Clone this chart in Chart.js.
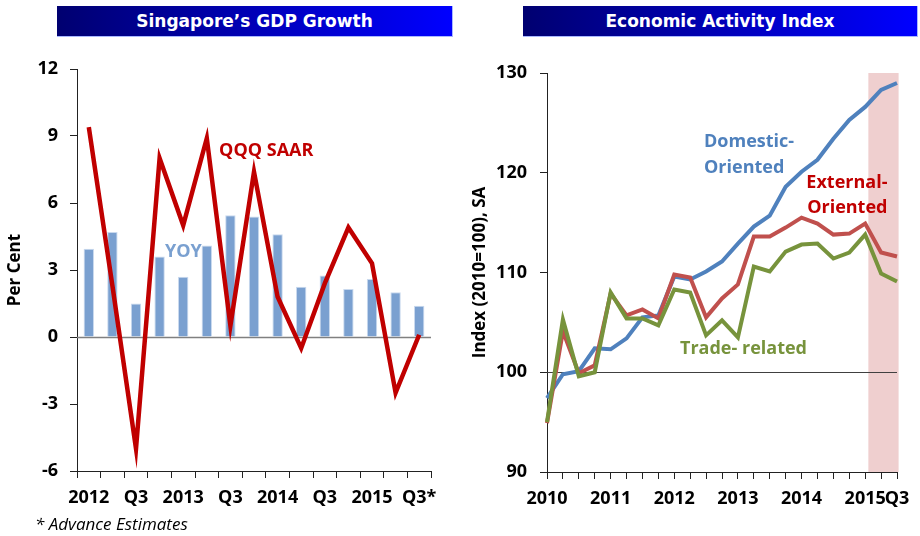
<!DOCTYPE html>
<html>
<head>
<meta charset="utf-8">
<script src="https://cdn.jsdelivr.net/npm/chart.js@4.4.1/dist/chart.umd.min.js"></script>
<style>
  body { margin: 0; width: 920px; height: 536px; background: #fff; position: relative; overflow: hidden; font-family: "Open Sans", sans-serif; }
  .banner { position: absolute; top: 6px; height: 31px; box-sizing: border-box; background: linear-gradient(to right, #000070, #0000ff); color: #fff; font: bold 17px "DejaVu Sans", sans-serif; text-align: center; line-height: 30px; border-right: 1px solid #a9b8ff; border-bottom: 1px solid #a9b8ff; }
  .box { position: absolute; top: 40px; width: 460px; height: 475px; }
  .note { position: absolute; left: 35px; top: 512px; font: italic 17px "Open Sans", sans-serif; color: #000; }
</style>
</head>
<body>
<div class="banner" style="left:57px;width:396px">Singapore’s GDP Growth</div>
<div class="banner" style="left:523px;width:395px">Economic Activity Index</div>
<div class="box" style="left:0"><canvas id="gdpChart"></canvas></div>
<div class="box" style="left:460px"><canvas id="eaiChart"></canvas></div>
<div class="note">* Advance Estimates</div>
<script>
// left panel: quarterly GDP growth, 2012Q1 - 2015Q3
const gdpQuarters = ['2012Q1', '2012Q2', '2012Q3', '2012Q4', '2013Q1', '2013Q2', '2013Q3', '2013Q4', '2014Q1', '2014Q2', '2014Q3', '2014Q4', '2015Q1', '2015Q2', '2015Q3'];
const gdpTickLabels = ['2012', '', 'Q3', '', '2013', '', 'Q3', '', '2014', '', 'Q3', '', '2015', '', 'Q3*'];
const yoyGrowth = [3.95, 4.7, 1.5, 3.6, 2.7, 4.1, 5.45, 5.4, 4.6, 2.25, 2.75, 2.15, 2.6, 2.0, 1.4];
const qoqSaar = [9.4, 2.3, -5.0, 8.0, 5.0, 8.9, 0.5, 7.4, 1.8, -0.5, 2.4, 4.9, 3.3, -2.5, 0.1];

// right panel: economic activity index, 2010Q1 - 2015Q3
const eaiQuarters = ['2010Q1', '2010Q2', '2010Q3', '2010Q4', '2011Q1', '2011Q2', '2011Q3', '2011Q4', '2012Q1', '2012Q2', '2012Q3', '2012Q4', '2013Q1', '2013Q2', '2013Q3', '2013Q4', '2014Q1', '2014Q2', '2014Q3', '2014Q4', '2015Q1', '2015Q2', '2015Q3'];
const eaiTickLabels = ['2010', '', '', '', '2011', '', '', '', '2012', '', '', '', '2013', '', '', '', '2014', '', '', '', '2015', '', 'Q3'];
const domesticOriented = [97.4, 99.8, 100.1, 102.4, 102.3, 103.4, 105.5, 105.7, 109.6, 109.3, 110.1, 111.1, 112.9, 114.6, 115.7, 118.6, 120.1, 121.3, 123.4, 125.3, 126.6, 128.3, 129.0];
const externalOriented = [94.9, 104.1, 99.9, 100.7, 107.9, 105.7, 106.3, 105.4, 109.8, 109.5, 105.5, 107.4, 108.8, 113.6, 113.6, 114.5, 115.5, 114.9, 113.8, 113.9, 114.9, 112.0, 111.6];
const tradeRelated = [95.0, 105.3, 99.6, 100.0, 108.0, 105.4, 105.4, 104.7, 108.3, 108.0, 103.7, 105.2, 103.5, 110.6, 110.1, 112.1, 112.8, 112.9, 111.4, 112.0, 113.8, 109.9, 109.1];

const tickFont = { family: 'Open Sans', weight: 'bold', size: 18 };
const titleFont = { family: 'Open Sans', weight: 'bold', size: 17 };

// reference line, shaded period and in-chart series labels
const guides = {
  id: 'guides',
  beforeDatasetsDraw(chart, args, opts) {
    const { ctx, chartArea: a, scales: { x, y } } = chart;
    ctx.save();
    if (opts.shade) {
      const x0 = x.getPixelForValue(opts.shade[0]);
      const x1 = x.getPixelForValue(opts.shade[1]);
      ctx.fillStyle = '#efcfcf';
      ctx.fillRect(x0, a.top, x1 - x0, a.bottom - a.top);
    }
    const py = Math.round(y.getPixelForValue(opts.refLine)) + 0.5;
    ctx.strokeStyle = opts.refColor;
    ctx.lineWidth = opts.refWidth;
    ctx.beginPath();
    ctx.moveTo(a.left, py);
    ctx.lineTo(a.right, py);
    ctx.stroke();
    ctx.restore();
  },
  afterDatasetsDraw(chart, args, opts) {
    const { ctx, scales: { x, y } } = chart;
    ctx.save();
    ctx.font = 'bold 18px "Open Sans"';
    ctx.textBaseline = 'middle';
    (opts.notes || []).forEach(n => {
      ctx.fillStyle = n.color;
      ctx.textAlign = n.align || 'left';
      ctx.fillText(n.text, x.getPixelForValue(n.at[0]), y.getPixelForValue(n.at[1]));
    });
    ctx.restore();
  }
};

new Chart(document.getElementById('gdpChart'), {
  data: {
    labels: gdpQuarters,
    datasets: [{
      type: 'line',
      label: 'QQQ SAAR',
      data: qoqSaar,
      borderColor: '#c00000',
      borderWidth: 4.5,
      pointRadius: 0,
      tension: 0
    }, {
      type: 'bar',
      label: 'YOY',
      data: yoyGrowth,
      backgroundColor: '#7aa0d0',
      borderColor: '#c9d9ee',
      borderWidth: 1,
      barPercentage: 0.44,
      categoryPercentage: 1
    }]
  },
  options: {
    responsive: true,
    maintainAspectRatio: false,
    animation: false,
    layout: { padding: { top: 29, right: 29, left: 0, bottom: 0 } },
    scales: {
      x: {
        grid: { display: true, drawOnChartArea: false, tickLength: 7, color: '#222', offset: true },
        border: { color: '#222', width: 1 },
        ticks: {
          autoSkip: false, maxRotation: 0, padding: 9, color: '#000', font: tickFont,
          callback: (v, i) => gdpTickLabels[i]
        },
        afterFit(scale) { scale.height = 44; }
      },
      y: {
        min: -6, max: 12,
        grid: { display: true, drawOnChartArea: false, tickLength: 7, color: '#222' },
        border: { color: '#222', width: 1 },
        ticks: { stepSize: 3, padding: 12, color: '#000', font: tickFont },
        title: { display: true, text: 'Per Cent', color: '#000', font: titleFont, padding: { top: 5, bottom: 0 } },
        afterFit(scale) { scale.width = 77; }
      }
    },
    plugins: {
      legend: { display: false },
      tooltip: { enabled: false },
      guides: {
        refLine: 0, refColor: '#808080', refWidth: 1.5,
        notes: [
          { text: 'QQQ SAAR', color: '#c00000', at: [5.52, 8.34] },
          { text: 'YOY', color: '#7aa0d0', at: [3.23, 3.83] }
        ]
      }
    }
  },
  plugins: [guides]
});

new Chart(document.getElementById('eaiChart'), {
  type: 'line',
  data: {
    labels: eaiQuarters,
    datasets: [{
      label: 'Trade-related',
      data: tradeRelated,
      borderColor: '#77933c',
      borderWidth: 4,
      pointRadius: 0,
      tension: 0
    }, {
      label: 'External-Oriented',
      data: externalOriented,
      borderColor: '#c0504d',
      borderWidth: 4,
      pointRadius: 0,
      tension: 0
    }, {
      label: 'Domestic-Oriented',
      data: domesticOriented,
      borderColor: '#4f81bd',
      borderWidth: 4,
      pointRadius: 0,
      tension: 0
    }]
  },
  options: {
    responsive: true,
    maintainAspectRatio: false,
    animation: false,
    layout: { padding: { top: 33, right: 23, left: 0, bottom: 0 } },
    scales: {
      x: {
        offset: false,
        grid: { display: true, drawOnChartArea: false, tickLength: 7, color: '#222' },
        border: { color: '#222', width: 1 },
        ticks: {
          autoSkip: false, maxRotation: 0, padding: 9, color: '#000', font: tickFont,
          callback: (v, i) => eaiTickLabels[i]
        },
        afterFit(scale) { scale.height = 43; }
      },
      y: {
        min: 90, max: 130,
        grid: { display: true, drawOnChartArea: false, tickLength: 7, color: '#222' },
        border: { color: '#222', width: 1 },
        ticks: { stepSize: 10, padding: 13, color: '#000', font: tickFont },
        title: { display: true, text: 'Index (2010=100), SA', color: '#000', font: titleFont, padding: { top: 10, bottom: 0 } },
        afterFit(scale) { scale.width = 87; }
      }
    },
    plugins: {
      legend: { display: false },
      tooltip: { enabled: false },
      guides: {
        shade: [20.2, 22.1],
        refLine: 100, refColor: '#404040', refWidth: 1,
        notes: [
          { text: 'Domestic-', color: '#4f81bd', at: [9.87, 123.1] },
          { text: 'Oriented', color: '#4f81bd', at: [9.87, 120.5] },
          { text: 'External-', color: '#c00000', at: [21.4, 119.0], align: 'right' },
          { text: 'Oriented', color: '#c00000', at: [21.4, 116.5], align: 'right' },
          { text: 'Trade- related', color: '#77933c', at: [8.36, 102.3] }
        ]
      }
    }
  },
  plugins: [guides]
});
</script>
</body>
</html>
